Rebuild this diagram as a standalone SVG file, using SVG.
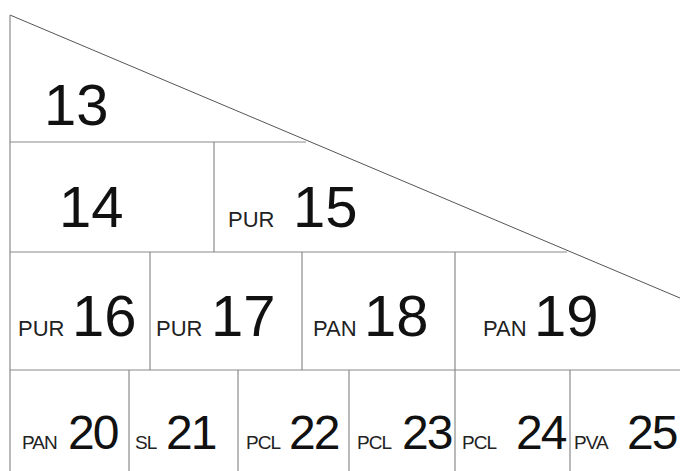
<svg xmlns="http://www.w3.org/2000/svg" width="680" height="471" viewBox="0 0 680 471">
<style>
.ln{stroke:#8a8a8a;stroke-width:1.2;fill:none}
.dg{stroke:#555;stroke-width:1;fill:none}
.big{font-family:"Liberation Sans",Arial,sans-serif;font-size:58px;fill:#111}
.mid{font-family:"Liberation Sans",Arial,sans-serif;font-size:48px;fill:#111;letter-spacing:-2px}
.sm{font-family:"Liberation Sans",Arial,sans-serif;font-size:22px;fill:#222}
.xs{font-family:"Liberation Sans",Arial,sans-serif;font-size:19px;fill:#222;letter-spacing:-1px}
</style>
<rect width="680" height="471" fill="#fff"/>
<g id="connectors">
<line class="dg" x1="10" y1="15" x2="680" y2="298"/>
<line class="ln" x1="10" y1="15" x2="10" y2="471"/>
<line class="ln" x1="10" y1="142" x2="306" y2="142"/>
<line class="ln" x1="10" y1="252" x2="567" y2="252"/>
<line class="ln" x1="10" y1="370" x2="680" y2="370"/>
<line class="ln" x1="214" y1="142" x2="214" y2="252"/>
<line class="ln" x1="150" y1="252" x2="150" y2="370"/>
<line class="ln" x1="302" y1="252" x2="302" y2="370"/>
<line class="ln" x1="455" y1="252" x2="455" y2="370"/>
<line class="ln" x1="129" y1="370" x2="129" y2="471"/>
<line class="ln" x1="238" y1="370" x2="238" y2="471"/>
<line class="ln" x1="349" y1="370" x2="349" y2="471"/>
<line class="ln" x1="455" y1="370" x2="455" y2="471"/>
<line class="ln" x1="570" y1="370" x2="570" y2="471"/>
</g>
<g id="n13"><text class="big" x="44" y="125">13</text></g>
<g id="n14"><text class="big" x="59" y="227">14</text></g>
<g id="n15"><text class="sm" x="228" y="227">PUR</text><text class="big" x="293" y="227">15</text></g>
<g id="n16"><text class="sm" x="18" y="336">PUR</text><text class="big" x="72" y="336">16</text></g>
<g id="n17"><text class="sm" x="156" y="336">PUR</text><text class="big" x="211" y="336">17</text></g>
<g id="n18"><text class="sm" x="313" y="336">PAN</text><text class="big" x="364" y="336">18</text></g>
<g id="n19"><text class="sm" x="483" y="336">PAN</text><text class="big" x="534" y="336">19</text></g>
<g id="n20"><text class="xs" x="22" y="449">PAN</text><text class="mid" x="68" y="449">20</text></g>
<g id="n21"><text class="xs" x="135" y="449">SL</text><text class="mid" x="166" y="449">21</text></g>
<g id="n22"><text class="xs" x="246" y="449">PCL</text><text class="mid" x="289" y="449">22</text></g>
<g id="n23"><text class="xs" x="357" y="449">PCL</text><text class="mid" x="402" y="449">23</text></g>
<g id="n24"><text class="xs" x="462" y="449">PCL</text><text class="mid" x="516" y="449">24</text></g>
<g id="n25"><text class="xs" x="574" y="449">PVA</text><text class="mid" x="627" y="449">25</text></g>
</svg>
